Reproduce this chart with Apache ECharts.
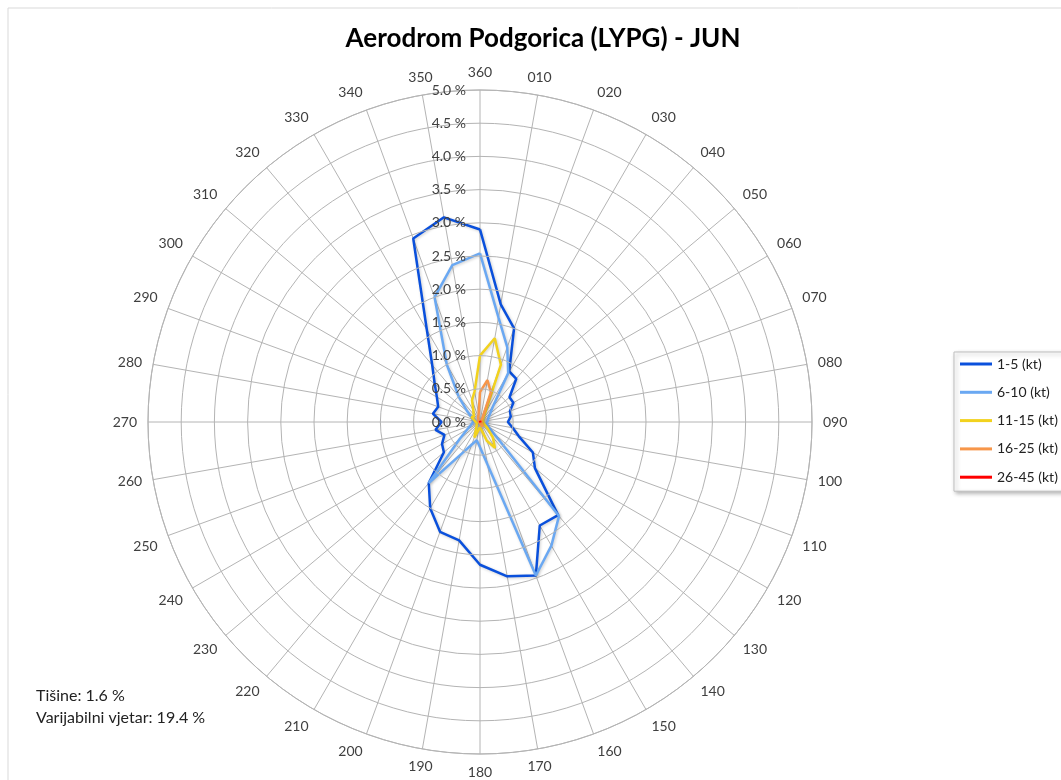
<!DOCTYPE html>
<html>
<head>
<meta charset="utf-8">
<script src="https://cdn.jsdelivr.net/npm/echarts@6/dist/echarts.min.js"></script>
<style>
  html, body { margin: 0; padding: 0; background: #fff; }
  #main { width: 1061px; height: 780px; }
</style>
</head>
<body>
<div id="main"></div>
<script>
// smjerovi vjetra (stepeni), pocinje od sjevera
var directions = ['360','010','020','030','040','050','060','070','080','090','100','110',
                  '120','130','140','150','160','170','180','190','200','210','220','230',
                  '240','250','260','270','280','290','300','310','320','330','340','350'];

// ucestalost u % po smjeru
var kt1_5   = [2.9, 1.8, 1.5, 0.88, 0.85, 0.58, 0.58, 0.48, 0.47, 0.42, 0.5, 0.62,
               0.92, 1.08, 1.83, 1.8, 2.46, 2.36, 2.15, 1.81, 1.76, 1.5, 1.2, 0.71,
               0.66, 0.57, 0.68, 0.58, 0.72, 0.67, 0.75, 0.89, 1.12, 1.6, 2.94, 3.13];
var kt6_10  = [2.54, 1.6, 1.2, 0.85, 0.3, 0.2, 0.15, 0.15, 0.12, 0.12, 0.1, 0.12,
               0.15, 0.28, 1.85, 2.15, 2.46, 0.65, 0.38, 0.28, 0.36, 0.55, 1.2, 0.4,
               0.22, 0.15, 0.12, 0.1, 0.1, 0.12, 0.15, 0.25, 0.5, 1.0, 2.0, 2.4];
var kt11_15 = [1.0, 1.28, 0.92, 0.15, 0.08, 0.06, 0.05, 0.05, 0.05, 0.05, 0.05, 0.06,
               0.08, 0.15, 0.3, 0.45, 0.3, 0.12, 0.08, 0.12, 0.25, 0.12, 0.08, 0.06,
               0.06, 0.05, 0.05, 0.05, 0.06, 0.1, 0.15, 0.12, 0.15, 0.2, 0.35, 0.47];
var kt16_25 = [0.45, 0.64, 0.48, 0.08, 0.03, 0.02, 0.02, 0.02, 0.02, 0.02, 0.02, 0.02,
               0.03, 0.04, 0.05, 0.08, 0.05, 0.03, 0.02, 0.02, 0.03, 0.02, 0.02, 0.02,
               0.02, 0.02, 0.02, 0.02, 0.02, 0.02, 0.03, 0.03, 0.04, 0.05, 0.08, 0.12];
var kt26_45 = [0.02, 0.02, 0.01, 0, 0, 0, 0, 0, 0, 0, 0, 0,
               0, 0, 0.01, 0.01, 0.01, 0, 0, 0, 0, 0, 0, 0,
               0, 0, 0, 0, 0, 0, 0, 0, 0, 0.01, 0.01, 0.02];

var seriesNames = ['1-5 (kt)', '6-10 (kt)', '11-15 (kt)', '16-25 (kt)', '26-45 (kt)'];
var seriesColors = ['#0a50dc', '#6aa8f2', '#f2d21e', '#f7964a', '#ff0000'];

var calmText = 'Tišine: 1.6 %';
var variableText = 'Varijabilni vjetar: 19.4 %';

function toPolar(values) {
  var out = [];
  for (var i = 0; i < values.length; i++) {
    out.push([values[i], i * 10]);
  }
  out.push([values[0], 360]);   // zatvori poligon
  return out;
}

var allValues = [kt1_5, kt6_10, kt11_15, kt16_25, kt26_45];
var series = [];
for (var s = 0; s < allValues.length; s++) {
  series.push({
    name: seriesNames[s],
    type: 'line',
    coordinateSystem: 'polar',
    data: toPolar(allValues[s]),
    symbol: 'none',
    smooth: false,
    lineStyle: {
      color: seriesColors[s],
      width: 2.5,
      shadowColor: 'rgba(0,0,0,0.2)',
      shadowBlur: 3,
      shadowOffsetX: 1,
      shadowOffsetY: 1
    },
    itemStyle: { color: seriesColors[s] },
    z: 3 + s
  });
}

var gridColor = '#b4b4b4';
var font = 'Lato';

var option = {
  animation: false,
  backgroundColor: '#fff',
  title: {
    text: 'Aerodrom Podgorica (LYPG) - JUN',
    left: 538,
    top: 21,
    textAlign: 'center',
    textStyle: { color: '#000', fontSize: 26, fontWeight: 'bold', fontFamily: font }
  },
  legend: {
    orient: 'vertical',
    left: 954,
    top: 352,
    data: seriesNames,
    icon: 'rect',
    itemWidth: 32,
    itemHeight: 3,
    itemGap: 12.3,
    padding: [4, 20, 6, 6],
    borderColor: '#bfbfbf',
    borderWidth: 1,
    backgroundColor: '#fff',
    shadowColor: 'rgba(0,0,0,0.3)',
    shadowBlur: 4,
    shadowOffsetX: 2,
    shadowOffsetY: 2,
    textStyle: { color: '#222', fontSize: 14, lineHeight: 16, fontFamily: font }
  },
  polar: {
    center: [480, 422],
    radius: 332
  },
  angleAxis: {
    type: 'value',
    min: 0,
    max: 360,
    interval: 10,
    startAngle: 90,
    clockwise: true,
    axisLine: { show: true, lineStyle: { color: gridColor, width: 1 } },
    axisTick: { show: false },
    splitLine: { show: true, lineStyle: { color: gridColor, width: 1 } },
    axisLabel: {
      color: '#404040',
      fontSize: 14,
      fontFamily: font,
      margin: 11,
      formatter: function (v) { return directions[(v / 10) % 36]; }
    }
  },
  radiusAxis: {
    type: 'value',
    min: 0,
    max: 5,
    interval: 0.5,
    axisLine: { show: false },
    axisTick: { show: false },
    splitLine: { show: true, lineStyle: { color: gridColor, width: 1 } },
    axisLabel: {
      color: '#404040',
      fontSize: 14,
      fontFamily: font,
      margin: 14,
      formatter: function (v) { return v.toFixed(1) + ' %'; }
    },
    z: 10
  },
  graphic: [
    {
      type: 'rect',
      shape: { x: 8, y: 8, width: 1100, height: 800 },
      style: { fill: 'none', stroke: '#d9d9d9', lineWidth: 1 },
      silent: true
    },
    {
      type: 'text',
      left: 36,
      top: 688,
      style: { text: calmText, fill: '#222', fontSize: 16, fontFamily: font }
    },
    {
      type: 'text',
      left: 36,
      top: 710,
      style: { text: variableText, fill: '#222', fontSize: 16, fontFamily: font }
    }
  ],
  series: series
};

var chart = echarts.init(document.getElementById('main'));
chart.setOption(option);
</script>
</body>
</html>
